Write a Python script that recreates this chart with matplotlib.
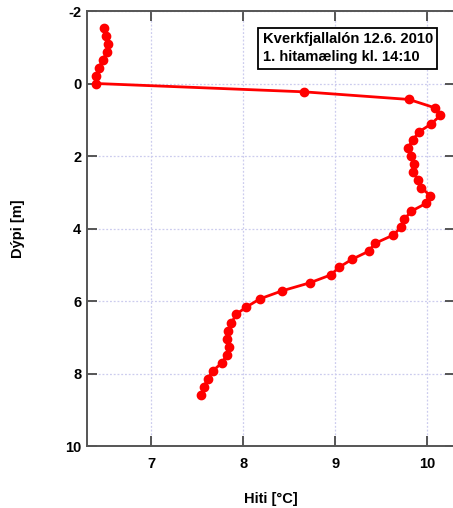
import matplotlib
matplotlib.use("Agg")
import matplotlib.pyplot as plt

plt.rcParams['font.family'] = ['Liberation Sans', 'DejaVu Sans']
plt.rcParams['axes.unicode_minus'] = False

depth = [-1.53, -1.32, -1.10, -0.88, -0.65, -0.44, -0.21, 0.0, 0.23, 0.44,
         0.67, 0.88, 1.12, 1.33, 1.56, 1.77, 1.99, 2.22, 2.44, 2.66,
         2.87, 3.09, 3.30, 3.53, 3.75, 3.97, 4.18, 4.41, 4.63, 4.85,
         5.07, 5.28, 5.50, 5.72, 5.94, 6.17, 6.37, 6.61, 6.83, 7.05,
         7.27, 7.48, 7.70, 7.92, 8.15, 8.37, 8.58]
temp = [6.49, 6.51, 6.525, 6.52, 6.47, 6.43, 6.40, 6.40, 8.66, 9.80,
        10.08, 10.14, 10.04, 9.91, 9.84, 9.79, 9.82, 9.85, 9.84, 9.90,
        9.93, 10.03, 9.99, 9.82, 9.75, 9.71, 9.63, 9.43, 9.36, 9.18,
        9.04, 8.95, 8.72, 8.42, 8.18, 8.03, 7.92, 7.87, 7.83, 7.82,
        7.84, 7.82, 7.77, 7.67, 7.61, 7.57, 7.54]
xticks = [7, 8, 9, 10]
yticks = [-2, 0, 2, 4, 6, 8, 10]
title_text = "Kverkfjallalón 12.6. 2010\n1. hitamæling kl. 14:10"

fig = plt.figure(figsize=(4.53, 5.08), dpi=100)
W, H = 453, 508
left, right, top, bottom = 87, 455, 11, 446
ax = fig.add_axes([left / W, (H - bottom) / H, (right - left) / W, (bottom - top) / H])

ax.plot(temp, depth, color='#ff0000', lw=2.0, marker='o', ms=6.0,
        markeredgecolor='#ff0000', markerfacecolor='#ff0000', zorder=3)

ax.set_xlim(6.3, 10.3)
ax.set_ylim(10, -2)
ax.set_xticks(xticks)
ax.set_yticks(yticks)
ax.grid(True, color='#ccccee', linestyle=(0, (1.5, 1.5)), lw=0.9)

for s in ax.spines.values():
    s.set_color('#555555')
    s.set_linewidth(1.4)

ax.tick_params(axis='both', direction='in', length=7, width=1.4, color='#555555',
               top=True, right=True, labelsize=10.5)
ax.tick_params(axis='x', pad=8)
ax.tick_params(axis='y', pad=4)
for lab in ax.get_xticklabels() + ax.get_yticklabels():
    lab.set_fontweight('bold')

ax.set_xlabel('Hiti [°C]', fontsize=10.5, fontweight='bold')
ax.set_ylabel('Dýpi [m]', fontsize=10.5, fontweight='bold')
ax.xaxis.set_label_coords(0.5, -0.105)
ax.yaxis.set_label_coords(-0.168, 0.5)

ax.text(0.4775, 0.951, title_text, transform=ax.transAxes, ha='left', va='top',
        fontsize=10.6, fontweight='bold', linespacing=1.35,
        bbox=dict(boxstyle='square,pad=0.3', facecolor='white', edgecolor='black', lw=1.3),
        zorder=5)

fig.savefig('out.png', dpi=100)
